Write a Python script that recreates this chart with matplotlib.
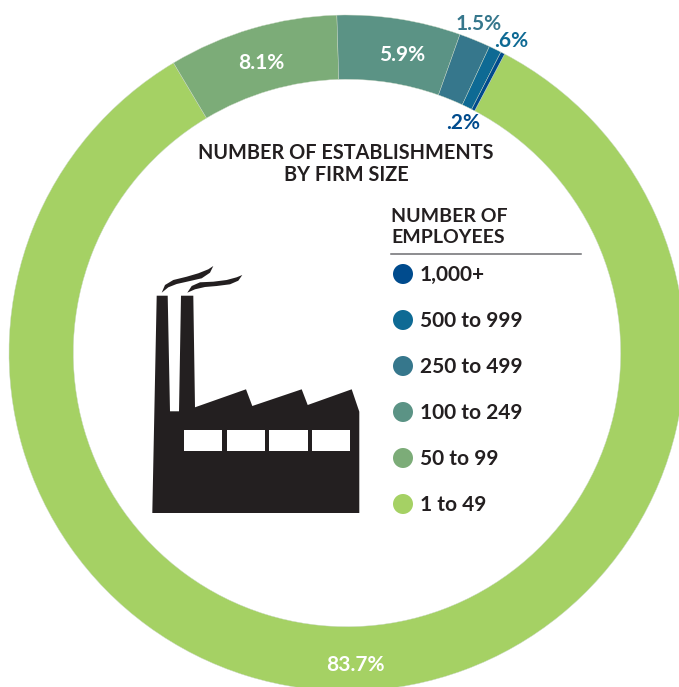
#!/usr/bin/env python3

import matplotlib

matplotlib.use("Agg")
import matplotlib.pyplot as plt
from matplotlib.patches import Circle, Polygon, Rectangle

WIDTH = 679
HEIGHT = 687

categories = ["1 to 49", "50 to 99", "100 to 249", "250 to 499", "500 to 999", "1,000+"]
shares = [83.7, 8.1, 5.9, 1.5, 0.6, 0.2]
share_labels = ["83.7%", "8.1%", "5.9%", "1.5%", ".6%", ".2%"]
colors = ["#a5d164", "#7cac78", "#5b9385", "#36778c", "#0e6a94", "#004b8d"]
legend_order = ["1,000+", "500 to 999", "250 to 499", "100 to 249", "50 to 99", "1 to 49"]

# label positions in picture pixels
label_pos = [(355, 665), (261, 63), (402, 55), (479, 24), (511, 41), (463, 123)]
label_colors = ["white", "white", "white", "#36778c", "#0e6a94", "#004b8d"]
legend_rows = [274, 320, 366, 412, 458, 504]

# factory icon outline
factory = [
    (152.3, 513), (359.3, 513), (359.3, 411.7), (351.7, 389.3), (307.7, 405),
    (301.7, 389.3), (252.3, 406), (246, 389.3), (195, 407.3), (193.3, 295.7),
    (181, 295.7), (179, 411.3), (170, 411.3), (167.7, 295.7), (156.7, 295.7),
]
smoke_a = [
    (161.7, 292.7), (165, 285), (173.3, 280), (186.7, 276.7), (198.3, 273.3),
    (208.3, 269.3), (213.3, 266), (210, 272.7), (201.7, 278.3), (190, 281),
    (176.7, 284), (168.3, 287.3),
]
smoke_b = [
    (187.3, 292.7), (191.7, 286), (200, 282.3), (213.3, 281.7), (226.7, 280),
    (236.7, 277.3), (242.3, 275), (238.3, 280.7), (230, 284.3), (216.7, 286),
    (205, 287), (195, 289.3),
]
windows_x = [(184, 222.3), (227, 265), (269.3, 307.7), (312, 350.3)]
windows_y = (430.3, 450.7)

plt.rcParams["font.family"] = ["Lato", "DejaVu Sans"]


def py(y):
    return HEIGHT - y


fig = plt.figure(figsize=(WIDTH / 100, HEIGHT / 100), dpi=100)
ax = fig.add_axes([0, 0, 1, 1])

ax.pie(
    shares,
    colors=colors,
    startangle=90 - 27.8,
    counterclock=False,
    center=(347, py(353)),
    radius=338,
    wedgeprops={"width": 64.3, "edgecolor": "#c9d8c4", "linewidth": 0.3},
)
ax.set_xlim(0, WIDTH)
ax.set_ylim(0, HEIGHT)
ax.set_aspect("equal")
ax.axis("off")

for txt, (x, y), c in zip(share_labels, label_pos, label_colors):
    ax.text(x, py(y), txt, color=c, fontsize=15, fontweight="bold",
            ha="center", va="center")

ax.text(346, py(164), "NUMBER OF ESTABLISHMENTS\nBY FIRM SIZE", color="#231f20",
        fontsize=14.3, fontweight="bold", ha="center", va="center", linespacing=1.15)
ax.text(391, py(227), "NUMBER OF\nEMPLOYEES", color="#231f20", fontsize=14,
        fontweight="bold", ha="left", va="center", linespacing=1.25)
ax.plot([391, 581], [py(254), py(254)], color="#6d6e71", lw=1.1)

for name, row in zip(legend_order, legend_rows):
    c = colors[categories.index(name)]
    ax.add_patch(Circle((403, py(row)), 10, color=c, lw=0))
    ax.text(420, py(row + 1), name, color="#231f20", fontsize=15, fontweight="bold",
            ha="left", va="center")

# factory icon
icon_color = "#231f20"
for shape in (factory, smoke_a, smoke_b):
    ax.add_patch(Polygon([(x, py(y)) for x, y in shape], closed=True,
                         color=icon_color, lw=0))
for x0, x1 in windows_x:
    ax.add_patch(Rectangle((x0, py(windows_y[1])), x1 - x0, windows_y[1] - windows_y[0],
                           color="white", lw=0))

fig.savefig("out.png", dpi=100)
